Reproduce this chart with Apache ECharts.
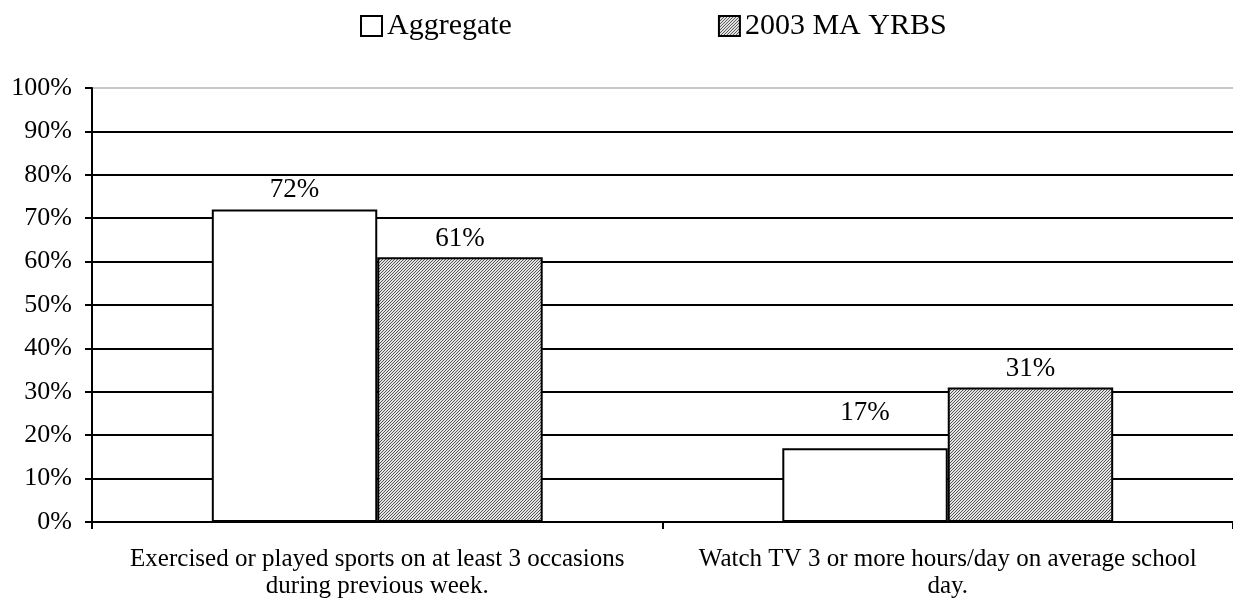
<!DOCTYPE html>
<html>
<head>
<meta charset="utf-8">
<script src="https://cdn.jsdelivr.net/npm/echarts@6/dist/echarts.min.js"></script>
<style>
html, body { margin: 0; padding: 0; background: #fff; }
#main { width: 1233px; height: 615px; }
</style>
</head>
<body>
<div id="main"></div>
<script>
var categories = ['Exercised or played sports on at least 3 occasions\nduring previous week.',
	'Watch TV 3 or more hours/day on average school\nday.'];
var aggregate = [72, 17];
var maYrbs = [61, 31];
var seriesNames = ['Aggregate', '2003 MA YRBS'];

// hatch pattern for the second series
var pat = document.createElement('canvas');
pat.width = 3;
pat.height = 3;
var ctx = pat.getContext('2d');
ctx.fillStyle = '#e4e4e4';
ctx.fillRect(0, 0, 3, 3);
ctx.fillStyle = '#555';
for (var i = 0; i < 3; i++) {
	ctx.fillRect(2 - i, i, 1, 1);
}

var font = 'Liberation Serif';
var gridColors = [];
for (var k = 0; k < 10; k++) gridColors.push('#000');
gridColors.push('#c8c8c8');

// label of the small aggregate bar sits a bit higher in the original
var aggData = aggregate.map(function(v, idx) {
	return idx == 1 ? { value : v, label : { distance : 22 } } : v;
});

var myChart = echarts.init(document.getElementById('main'));
var option = {
	animation : false,
	textStyle : { fontFamily : font },
	legend : {
		top : 6,
		left : 355,
		itemGap : 206,
		itemWidth : 21,
		itemHeight : 20,
		icon : 'rect',
		textStyle : { fontFamily : font, fontSize : 30, color : '#000' },
		data : seriesNames
	},
	grid : {
		left : 92,
		right : 0,
		top : 88,
		bottom : 93
	},
	xAxis : {
		type : 'category',
		data : categories,
		axisLine : { lineStyle : { color : '#000', width : 2 } },
		axisTick : { show : true, length : 7, lineStyle : { color : '#000', width : 2 } },
		axisLabel : { interval : 0, fontFamily : font, fontSize : 25, color : '#000', lineHeight : 27, margin : 24 }
	},
	yAxis : {
		type : 'value',
		min : 0,
		max : 100,
		interval : 10,
		axisLine : { show : true, lineStyle : { color : '#000', width : 2 } },
		axisTick : { show : true, length : 7, lineStyle : { color : '#000', width : 2 } },
		axisLabel : { formatter : '{value}%', fontFamily : font, fontSize : 26, color : '#000', margin : 20 },
		splitLine : { show : true, lineStyle : { color : gridColors, width : 2 } }
	},
	series : [ {
		name : seriesNames[0],
		type : 'bar',
		data : aggData,
		barGap : '0%',
		barCategoryGap : '42%',
		itemStyle : { color : '#fff', borderColor : '#000', borderWidth : 2 },
		label : { show : true, position : 'top', formatter : '{c}%', fontFamily : font, fontSize : 27, color : '#000', distance : 6 }
	}, {
		name : seriesNames[1],
		type : 'bar',
		data : maYrbs,
		itemStyle : { color : { image : pat, repeat : 'repeat' }, borderColor : '#000', borderWidth : 2 },
		label : { show : true, position : 'top', formatter : '{c}%', fontFamily : font, fontSize : 27, color : '#000', distance : 5 }
	} ]
};
myChart.setOption(option);
</script>
</body>
</html>
